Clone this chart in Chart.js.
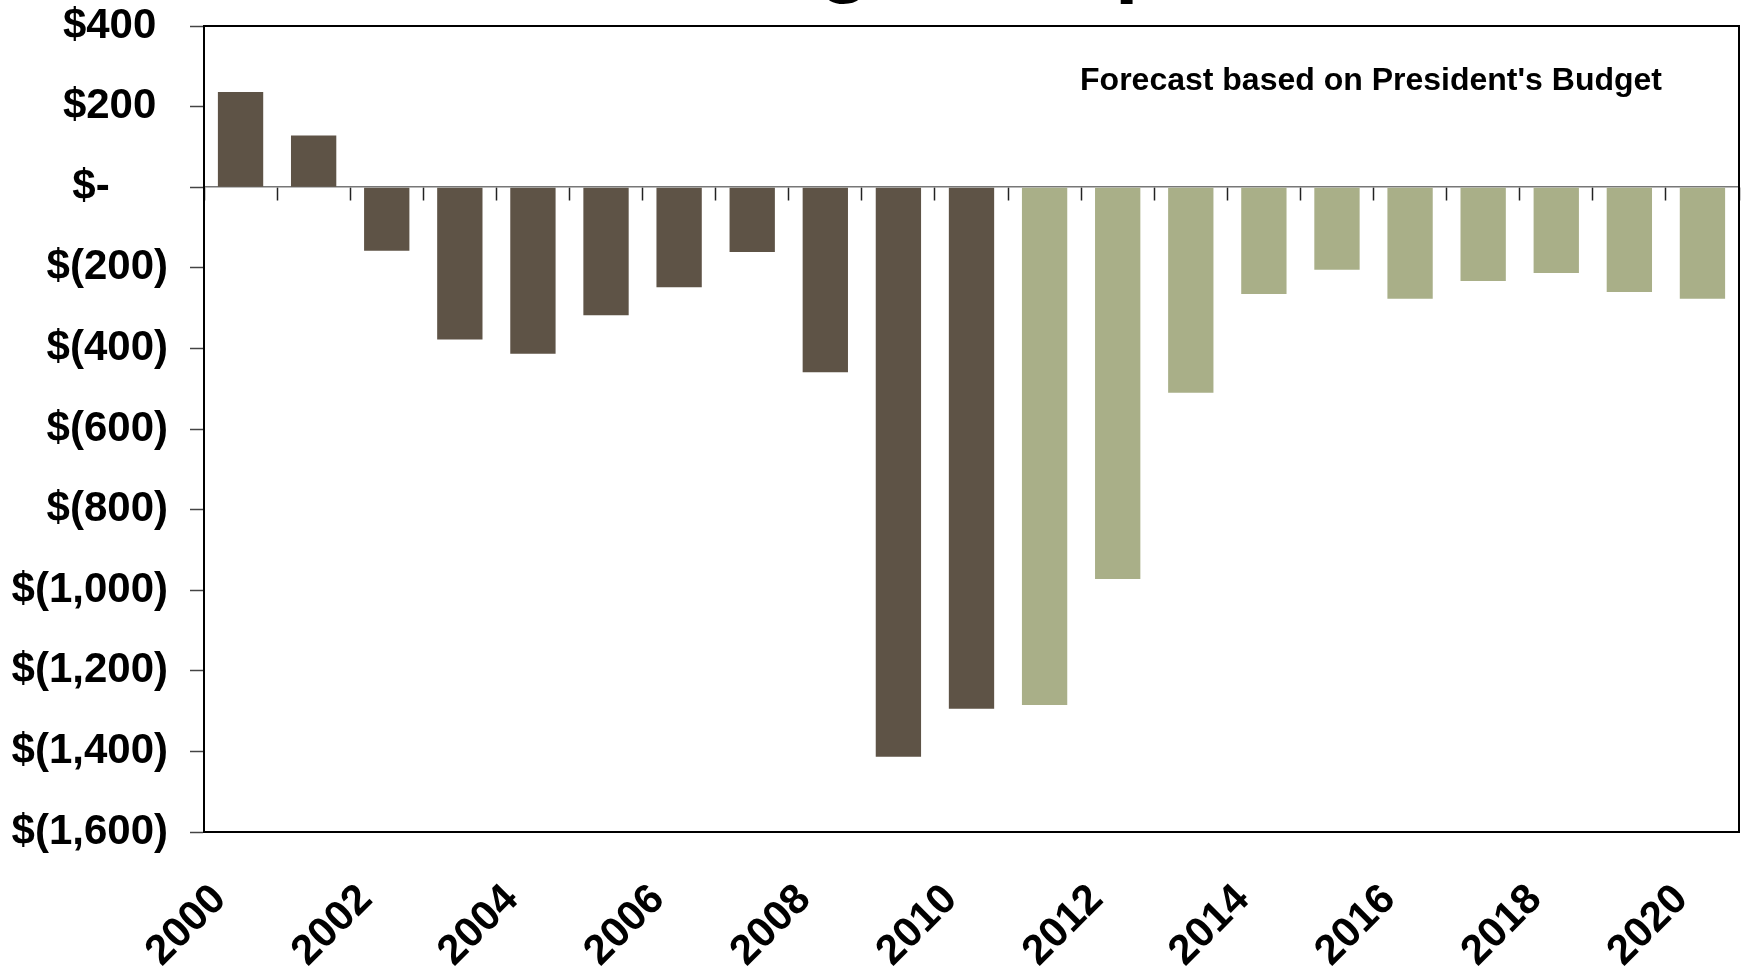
<!DOCTYPE html>
<html>
<head>
<meta charset="utf-8">
<script src="https://cdn.jsdelivr.net/npm/chart.js@4.4.1/dist/chart.umd.min.js"></script>
<style>
  html, body { margin: 0; padding: 0; background: #ffffff; overflow: hidden; }
  #wrap { width: 1742px; height: 972px; position: relative; }
</style>
</head>
<body>
<div id="wrap"><canvas id="c" width="1742" height="972"></canvas></div>
<script>
// ---- data ----
const years = [2000, 2001, 2002, 2003, 2004, 2005, 2006, 2007, 2008, 2009, 2010,
               2011, 2012, 2013, 2014, 2015, 2016, 2017, 2018, 2019, 2020];
const actualBalance = [236, 128, -158, -378, -413, -318, -248, -161, -459, -1413, -1294,
                       null, null, null, null, null, null, null, null, null, null];
const forecastBalance = [null, null, null, null, null, null, null, null, null, null, null,
                         -1285, -972, -510, -265, -205, -277, -233, -213, -260, -277];
const yTickValues = [400, 200, 0, -200, -400, -600, -800, -1000, -1200, -1400, -1600];
const yTickLabels = ['$400', '$200', '$-', '$(200)', '$(400)', '$(600)', '$(800)',
                     '$(1,000)', '$(1,200)', '$(1,400)', '$(1,600)'];
const titleText = 'Budget Surplus';
const noteText = "Forecast based on President's Budget";

const FONT = "'Liberation Sans', Arial, Helvetica, sans-serif";

const framePlugin = {
  id: 'frame',
  afterDraw(chart) {
    const {ctx, chartArea: a} = chart;
    ctx.save();
    ctx.strokeStyle = '#000000';
    ctx.lineWidth = 2;
    ctx.strokeRect(a.left, a.top, a.right - a.left, a.bottom - a.top);
    // note text
    ctx.fillStyle = '#000000';
    ctx.font = 'bold 32px ' + FONT;
    ctx.textAlign = 'right';
    ctx.textBaseline = 'alphabetic';
    ctx.fillText(noteText, a.right - 77, a.top + 64);
    // title (cut off at top of picture)
    ctx.font = 'bold 86px ' + FONT;
    ctx.textAlign = 'center';
    ctx.fillText(titleText, (a.left + a.right) / 2, -14);
    ctx.restore();
  }
};

new Chart(document.getElementById('c'), {
  type: 'bar',
  data: {
    labels: years.map(String),
    datasets: [
      { label: 'Actual', data: actualBalance, backgroundColor: '#5E5346', xAxisID: 'x', yAxisID: 'y' },
      { label: 'Forecast', data: forecastBalance, backgroundColor: '#A9AF88', xAxisID: 'x', yAxisID: 'y' }
    ]
  },
  options: {
    responsive: false,
    devicePixelRatio: 1,
    animation: false,
    layout: { padding: { top: 26, right: 3, left: 0, bottom: 0 } },
    datasets: { bar: { grouped: false, categoryPercentage: 1, barPercentage: 0.62 } },
    plugins: { legend: { display: false }, title: { display: false }, tooltip: { enabled: false } },
    scales: {
      x: {
        type: 'category',
        position: 'bottom',
        offset: true,
        grid: { display: false, drawTicks: false },
        border: { display: false },
        afterFit(scale) { scale.height = 140; scale.paddingLeft = 0; scale.paddingRight = 0; },
        ticks: {
          autoSkip: false,
          maxRotation: 45,
          minRotation: 45,
          padding: 43,
          labelOffset: -21,
          color: '#000000',
          font: { family: FONT, size: 42, weight: 'bold' },
          callback(value, index) { return years[index] % 2 === 0 ? String(years[index]) : ''; }
        }
      },
      x0: {
        type: 'category',
        position: { y: 0 },
        offset: true,
        afterFit(scale) { scale.paddingLeft = 0; scale.paddingRight = 0; },
        grid: { display: true, drawOnChartArea: false, drawTicks: true, tickLength: 13, offset: true,
                tickColor: '#222222', tickWidth: 1.5 },
        border: { display: true, color: '#777777', width: 1.5 },
        ticks: { display: false }
      },
      y: {
        type: 'linear',
        position: 'left',
        min: -1600,
        max: 400,
        afterBuildTicks(scale) { scale.ticks = yTickValues.map(v => ({ value: v })); },
        afterFit(scale) { scale.width = 204; scale.paddingTop = 0; scale.paddingBottom = 0; },
        grid: { display: true, drawOnChartArea: false, drawTicks: true, tickLength: 14,
                tickColor: '#444444', tickWidth: 1.5 },
        border: { display: true, color: '#000000', width: 2 },
        ticks: {
          padding: 22,
          color: '#000000',
          font: { family: FONT, size: 42, weight: 'bold' },
          callback(value) {
            const i = yTickValues.indexOf(value);
            if (i < 0) return '';
            const lbl = yTickLabels[i];
            if (value > 0) return lbl + ' ';
            if (value === 0) return lbl + '     ';
            return lbl;
          }
        }
      }
    }
  },
  plugins: [framePlugin]
});
</script>
</body>
</html>
